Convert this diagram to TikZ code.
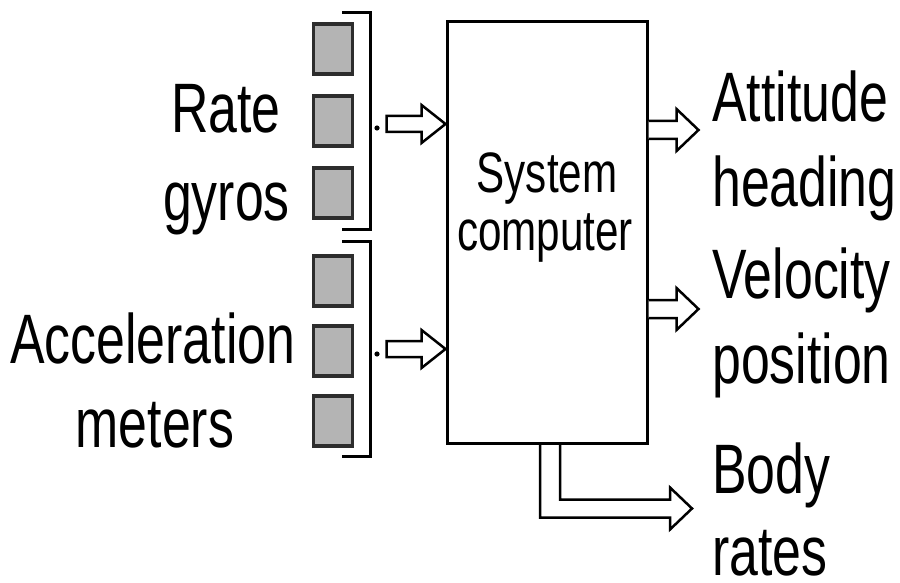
\documentclass[tikz,border=0pt]{standalone}
\usepackage{fontspec}
\setmainfont{Liberation Sans}
\usetikzlibrary{calc}
\newcommand{\nrw}[1]{\scalebox{0.74}[1]{#1}}
\definecolor{sqfill}{RGB}{180,180,180}
\definecolor{sqedge}{RGB}{45,45,45}
\begin{document}
\begin{tikzpicture}[x=1pt,y=-1pt,
  lbl/.style={inner sep=0pt, font=\fontsize{70}{80}\selectfont},
  lblsm/.style={inner sep=0pt, font=\fontsize{57}{66}\selectfont},
  sensor/.style={draw=sqedge, line width=3.5pt, fill=sqfill, minimum width=39pt, minimum height=50pt, inner sep=0pt},
  brk/.style={line width=3pt, line cap=rect},
  blockarrow/.style={draw, line width=2.5pt, fill=white, line join=miter}]
\useasboundingbox (0,0) rectangle (900,583);

% main box
\node[draw, line width=3pt, minimum width=200pt, minimum height=421pt, inner sep=0pt] (sys) at (547,232.5) {};
\node[lblsm, anchor=base] (t1) at (547,193) {\nrw{System}};
\node[lblsm, anchor=base] (t2) at (545,250) {\nrw{computer}};

% sensors
\node[sensor] (g1) at (333,49) {};
\node[sensor] (g2) at (333,121) {};
\node[sensor] (g3) at (333,193) {};
\node[sensor] (a1) at (333,281) {};
\node[sensor] (a2) at (333,351) {};
\node[sensor] (a3) at (333,421) {};

% brackets
\coordinate (bu1) at (343,13);
\coordinate (bu2) at (370,13);
\coordinate (bu3) at (370,229);
\coordinate (bu4) at (343,229);
\draw[brk] (bu1) -- (bu2) -- (bu3) -- (bu4);
\coordinate (bl1) at (343,241);
\coordinate (bl2) at (370,241);
\coordinate (bl3) at (370,456);
\coordinate (bl4) at (343,456);
\draw[brk] (bl1) -- (bl2) -- (bl3) -- (bl4);

% dots
\coordinate (d1) at (377,128);
\coordinate (d2) at (377,354);
\fill (d1) circle (2.6pt);
\fill (d2) circle (2.6pt);

% input block arrows
\coordinate (in1) at (sys.west |- 0,124);
\coordinate (in2) at (sys.west |- 0,349);
\foreach \c in {in1,in2}{
  \draw[blockarrow] (\c) -- ++(-24,-19) -- ++(0,11) -- ++(-35,0) -- ++(0,16) -- ++(35,0) -- ++(0,11) -- cycle;
}

% output block arrows
\coordinate (o1) at (sys.east |- 0,130);
\coordinate (o2) at (sys.east |- 0,309);
\foreach \c in {o1,o2}{
  \draw[blockarrow] (\c) ++(0,-9) -- ++(28,0) -- ++(0,-12) -- ++(22,21) -- ++(-22,21) -- ++(0,-12) -- ++(-28,0);
}

% bottom bent arrow
\coordinate (b0) at (550,0);
\coordinate (bs) at (sys.south -| b0);
\draw[blockarrow, fill=none] ($(bs)+(-10,0)$) -- ++(0,73) -- ++(130,0) -- ++(0,12) -- ++(22,-21) -- ++(-22,-21) -- ++(0,12) -- ++(-110,0) -- ($(bs)+(10,0)$);

% labels
\node[lbl, anchor=base east] (l1) at (281,133) {\nrw{Rate}};
\node[lbl, anchor=base east] (l2) at (290,220) {\nrw{gyros}};
\node[lbl, anchor=base west] (l3) at (10,363) {\nrw{Acceleration}};
\node[lbl, anchor=base] (l4) at (155,447) {\nrw{meters}};

\node[lbl, anchor=base west] (r1) at (712,122) {\nrw{Attitude}};
\node[lbl, anchor=base west] (r2) at (712,207) {\nrw{heading}};
\node[lbl, anchor=base west] (r3) at (712,298) {\nrw{Velocity}};
\node[lbl, anchor=base west] (r4) at (712,383) {\nrw{position}};
\node[lbl, anchor=base west] (r5) at (712,493) {\nrw{Body}};
\node[lbl, anchor=base west] (r6) at (712,575) {\nrw{rates}};
\end{tikzpicture}
\end{document}
